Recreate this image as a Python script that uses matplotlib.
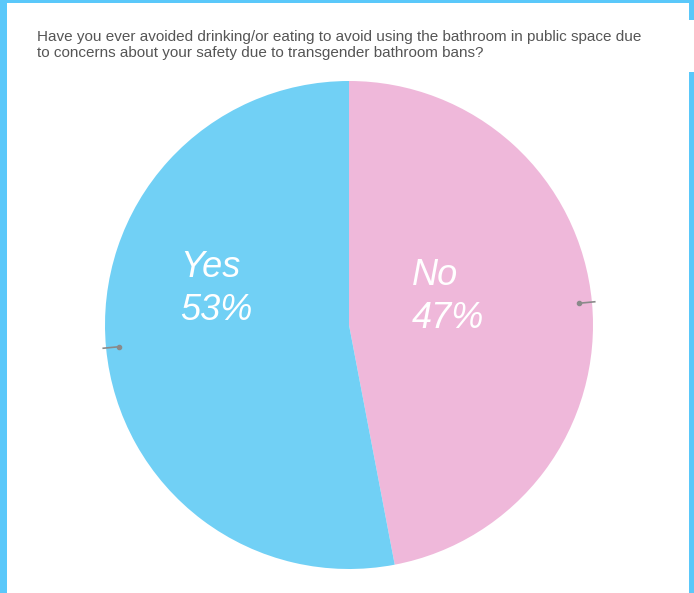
import numpy as np
import matplotlib
matplotlib.use('Agg')
from matplotlib import pyplot as plt
from matplotlib.patches import Rectangle

# data
labels = ['No', 'Yes']
shares = [47, 53]
colors = ['#efb8da', '#71d0f5']
title = ('Have you ever avoided drinking/or eating to avoid using the bathroom in public space due\n'
         'to concerns about your safety due to transgender bathroom bans?')

W, H = 694, 593
fig = plt.figure(figsize=(W / 100, H / 100), dpi=100)
fig.patch.set_facecolor('white')

# pie axes: centre (349, 325) px, radius 244 px
cx, cy, R = 349, 325, 244
ax = fig.add_axes([(cx - R) / W, (H - cy - R) / H, 2 * R / W, 2 * R / H])
wedges, _ = ax.pie(shares, colors=colors, startangle=90, counterclock=False,
                   radius=1.0, wedgeprops=dict(linewidth=0))
ax.set_xlim(-1, 1)
ax.set_ylim(-1, 1)
ax.axis('off')

# small grey leader ticks at each slice's mid angle
for w in wedges:
    mid = np.deg2rad((w.theta1 + w.theta2) / 2)
    r0, r1 = 0.945, 1.015
    ax.plot([r0 * np.cos(mid), r1 * np.cos(mid)], [r0 * np.sin(mid), r1 * np.sin(mid)],
            color='#8a8a8a', lw=1.2, solid_capstyle='butt', clip_on=False)
    ax.plot(r0 * np.cos(mid), r0 * np.sin(mid), 'o', color='#8a8a8a', ms=3, clip_on=False)

# slice labels
label_pos = {'Yes': (-0.693, 0.148), 'No': (0.258, 0.115)}
for lab, val in zip(labels, shares):
    x, y = label_pos[lab]
    ax.text(x, y, '%s\n%d%%' % (lab, val), color='white', fontsize=26, style='italic',
            family='Liberation Sans', ha='left', va='center', linespacing=1.3)

# title
fig.text(37 / W, 1 - 30 / H, title, color='#555555', fontsize=11,
         family='Liberation Sans', ha='left', va='top', linespacing=1.15)

# light-blue frame bits
border = '#5ac8fa'
def band(x0, y0, x1, y1):
    fig.add_artist(Rectangle((x0 / W, 1 - y1 / H), (x1 - x0) / W, (y1 - y0) / H,
                             transform=fig.transFigure, color=border, lw=0))
band(0, 0, 690, 3)
band(0, 0, 7, 593)
band(689, 0, 694, 20)
band(689, 72, 694, 593)

plt.savefig('out.png', dpi=100)
